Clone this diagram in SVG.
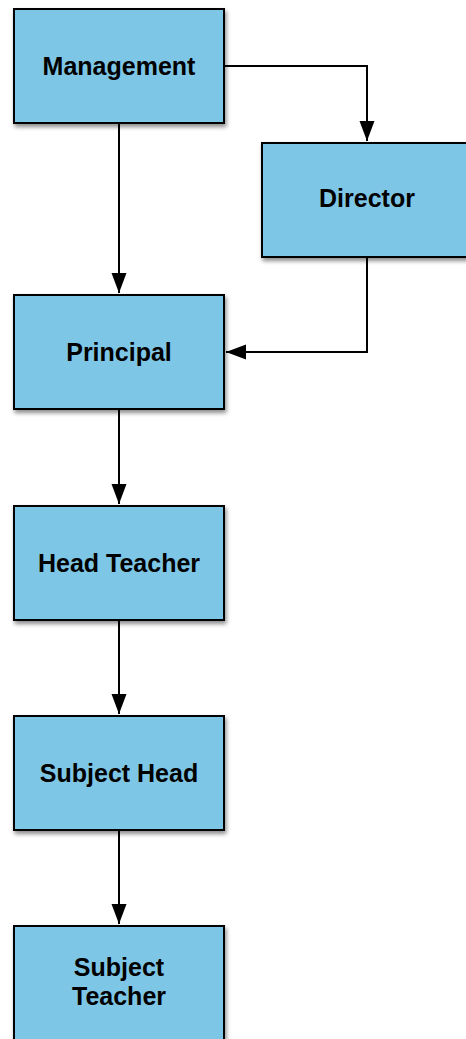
<svg xmlns="http://www.w3.org/2000/svg" width="466" height="1039" viewBox="0 0 466 1039">
<defs>
<style>
.box{fill:#7EC6E6;stroke:#000;stroke-width:2;filter:url(#sh)}
.lbl{font-family:"Liberation Sans",Arial,Helvetica,sans-serif;font-weight:bold;font-size:25px;fill:#000;text-anchor:middle}
.edge{fill:none;stroke:#000;stroke-width:2}
</style>
<filter id="sh" x="-10%" y="-10%" width="130%" height="140%">
<feDropShadow dx="1.5" dy="3" stdDeviation="2" flood-color="#000" flood-opacity="0.45"/>
</filter>
<marker id="arr" markerUnits="userSpaceOnUse" markerWidth="21" markerHeight="16" refX="20" refY="7.5" orient="auto">
<path d="M0,0 L20,7.5 L0,15 Z" fill="#000"/>
</marker>
</defs>
<rect width="466" height="1039" fill="#fff"/>
<g id="connectors">
<path class="edge" d="M224,66 H367 V141" marker-end="url(#arr)"/>
<path class="edge" d="M119,123 V293" marker-end="url(#arr)"/>
<path class="edge" d="M367,257 V352 H226" marker-end="url(#arr)"/>
<path class="edge" d="M119,409 V504" marker-end="url(#arr)"/>
<path class="edge" d="M119,620 V714" marker-end="url(#arr)"/>
<path class="edge" d="M119,830 V924" marker-end="url(#arr)"/>
</g>
<g id="management"><rect class="box" x="14" y="9" width="210" height="114"/><text class="lbl" x="119" y="75">Management</text></g>
<g id="director"><rect class="box" x="262" y="143" width="210" height="114"/><text class="lbl" x="367" y="207">Director</text></g>
<g id="principal"><rect class="box" x="14" y="295" width="210" height="114"/><text class="lbl" x="119" y="361">Principal</text></g>
<g id="head-teacher"><rect class="box" x="14" y="506" width="210" height="114"/><text class="lbl" x="119" y="572">Head Teacher</text></g>
<g id="subject-head"><rect class="box" x="14" y="716" width="210" height="114"/><text class="lbl" x="119" y="782">Subject Head</text></g>
<g id="subject-teacher"><rect class="box" x="14" y="926" width="210" height="114"/><text class="lbl" x="119" y="976">Subject</text><text class="lbl" x="119" y="1005">Teacher</text></g>
</svg>
